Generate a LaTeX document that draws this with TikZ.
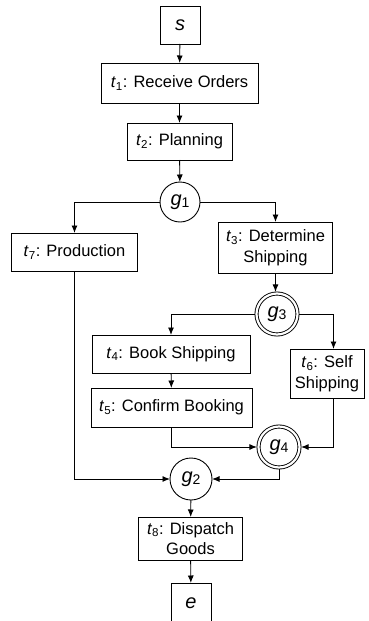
\documentclass[tikz,border=0pt]{standalone}
\usepackage{fontspec}
\setmainfont{Liberation Sans}
\usetikzlibrary{arrows.meta,calc}
\newcommand{\tsub}[2]{\textit{#1}\textsubscript{#2}}
\newcommand{\gsub}[2]{\textit{#1}\raisebox{-0.25ex}{\fontsize{14}{14}\selectfont #2}}
\begin{document}
\begin{tikzpicture}[x=1pt,y=-1pt,
  every node/.style={font=\fontsize{16.5}{20.5}\selectfont, inner sep=0pt, outer sep=0pt},
  box/.style={draw, line width=0.9pt, rectangle, align=center},
  big/.style={font=\fontsize{20}{24}\selectfont},
  gate/.style={draw, line width=0.9pt, circle, minimum size=40pt, big},
  dgate/.style={draw, line width=0.9pt, circle, double, double distance=2.2pt, minimum size=41pt, outer sep=1.6pt, big},
  conn/.style={line width=0.9pt, -{Latex[length=7.5pt,width=6pt]}}]
\useasboundingbox (0,0) rectangle (369,621);
\node[box, big, minimum width=40pt, minimum height=38pt] (s) at (180,25) {\textit{s}};
\node[box, minimum width=157pt, minimum height=40pt] (t1) at (179.5,83) {\tsub{t}{1}: Receive Orders};
\node[box, minimum width=105pt, minimum height=37pt] (t2) at (179.5,141.5) {\tsub{t}{2}: Planning};
\node[gate] (g1) at (180,202) {\gsub{g}{1}};
\node[box, minimum width=126pt, minimum height=38pt] (t7) at (74.5,252) {\tsub{t}{7}: Production};
\node[box, minimum width=114pt, minimum height=51pt] (t3) at (275.5,247.5) {\tsub{t}{3}: Determine\\Shipping};
\node[dgate] (g3) at (277,314) {\gsub{g}{3}};
\node[box, minimum width=158pt, minimum height=38pt] (t4) at (171,354) {\tsub{t}{4}: Book Shipping};
\node[box, minimum width=74pt, minimum height=49pt] (t6) at (327,373.5) {\tsub{t}{6}: Self\\Shipping};
\node[box, minimum width=161pt, minimum height=39pt] (t5) at (171.5,407.5) {\tsub{t}{5}: Confirm Booking};
\node[dgate] (g4) at (279,447) {\gsub{g}{4}};
\node[gate, minimum size=42pt] (g2) at (191,479) {\gsub{g}{2}};
\node[box, minimum width=104pt, minimum height=43pt] (t8) at (190.5,538.5) {\tsub{t}{8}: Dispatch\\Goods};
\node[box, big, minimum width=40pt, minimum height=40pt] (e) at (191,603) {\textit{e}};
\coordinate (t6n) at ($(t6.north)+(6.5,0)$);
\coordinate (t6s) at ($(t6.south)+(6.5,0)$);
\draw[conn] (s) -- (t1);
\draw[conn] (t1) -- (t2);
\draw[conn] (t2) -- (g1);
\draw[conn] (g1.west) -| (t7.north);
\draw[conn] (g1.east) -| (t3.north);
\draw[conn] (t3.south) -- (t3.south |- g3.north);
\draw[conn] (g3.west) -| (t4.north);
\draw[conn] (g3.east) -| (t6n);
\draw[conn] (t4) -- (t5);
\draw[conn] (t5.south) |- (g4.west);
\draw[conn] (t6s) |- (g4.east);
\draw[conn] (t7.south) |- (g2.west);
\draw[conn] (g4.south) |- (g2.east);
\draw[conn] (g2) -- (t8);
\draw[conn] (t8) -- (e);
\end{tikzpicture}
\end{document}
